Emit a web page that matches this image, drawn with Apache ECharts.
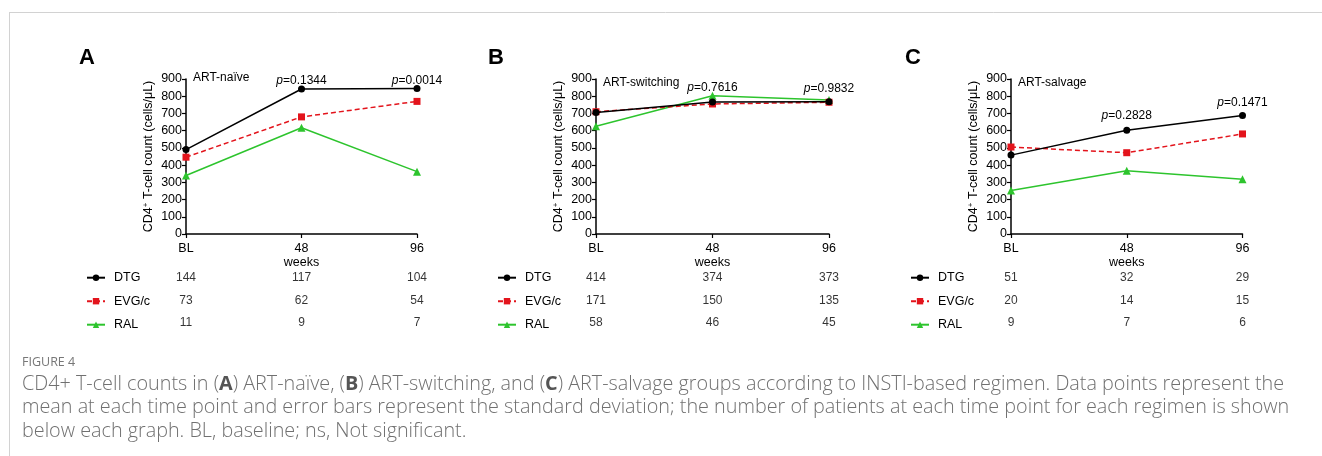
<!DOCTYPE html>
<html>
<head>
<meta charset="utf-8">
<script src="https://cdn.jsdelivr.net/npm/echarts@6/dist/echarts.min.js"></script>
<style>
html, body { margin: 0; padding: 0; background: #fff; }
#chart { width: 1322px; height: 456px; }
</style>
</head>
<body>
<div id="chart"></div>
<script>
// x categories and regimens
var weeks = ['BL', '48', '96'];
var regimens = ['DTG', 'EVG/c', 'RAL'];

// mean CD4 counts (cells/uL)
var naiveDTG = [490, 842, 845];
var naiveEVG = [446, 680, 770];
var naiveRAL = [340, 617, 362];
var switchDTG = [706, 767, 768];
var switchEVG = [710, 755, 765];
var switchRAL = [626, 803, 778];
var salvageDTG = [458, 602, 688];
var salvageEVG = [505, 472, 581];
var salvageRAL = [252, 367, 318];

// number of patients at each time point
var naiveN = [[144, 117, 104], [73, 62, 54], [11, 9, 7]];
var switchN = [[414, 374, 373], [171, 150, 135], [58, 46, 45]];
var salvageN = [[51, 32, 29], [20, 14, 15], [9, 7, 6]];

// p values at week 48 and 96
var naiveP = ['0.1344', '0.0014'];
var switchP = ['0.7616', '0.9832'];
var salvageP = ['0.2828', '0.1471'];

var yMin = 0, yMax = 900, yStep = 100;

var colors = ['#000000', '#e3141c', '#2dc42d'];
var font = '"Liberation Sans", Arial, sans-serif';

var panels = [
    {letter: 'A', group: 'ART-naïve', left: 186, width: 231, legendLeft: 86, letterX: 87,
     data: [naiveDTG, naiveEVG, naiveRAL], n: naiveN, p: naiveP, pY: [81, 81], groupY: 78},
    {letter: 'B', group: 'ART-switching', left: 596, width: 233, legendLeft: 497, letterX: 496,
     data: [switchDTG, switchEVG, switchRAL], n: switchN, p: switchP, pY: [88, 89], groupY: 83},
    {letter: 'C', group: 'ART-salvage', left: 1011, width: 231.5, legendLeft: 910, letterX: 913,
     data: [salvageDTG, salvageEVG, salvageRAL], n: salvageN, p: salvageP, pY: [116, 103], groupY: 83}
];

var grids = [], xAxes = [], yAxes = [], series = [], legends = [], graphics = [];

panels.forEach(function (pn, i) {
    var ci = 2 * i;      // graph
    var ti = 2 * i + 1;  // count table
    grids.push({left: pn.left, width: pn.width, top: 79, height: 155});
    grids.push({left: pn.left, width: pn.width, top: 266.5, height: 68});

    xAxes.push({
        type: 'category', gridIndex: ci, data: weeks, boundaryGap: false,
        axisLine: {lineStyle: {color: '#000', width: 1.5}},
        axisTick: {show: true, length: 4, lineStyle: {color: '#000', width: 1.2}},
        axisLabel: {fontSize: 12.5, color: '#000', fontFamily: font, margin: 8},
        name: 'weeks', nameLocation: 'middle', nameGap: 21,
        nameTextStyle: {fontSize: 12.5, color: '#000', fontFamily: font}
    });
    xAxes.push({type: 'category', gridIndex: ti, data: weeks, boundaryGap: false, show: false});

    yAxes.push({
        type: 'value', gridIndex: ci, min: yMin, max: yMax, interval: yStep,
        axisLine: {show: true, lineStyle: {color: '#000', width: 1.5}},
        axisTick: {show: true, length: 4, lineStyle: {color: '#000', width: 1.2}},
        axisLabel: {fontSize: 12.5, color: '#000', fontFamily: font, margin: 4},
        splitLine: {show: false},
        name: 'CD4{sup|+} T-cell count (cells/μL)', nameLocation: 'middle', nameRotate: 90, nameGap: 31,
        nameTextStyle: {fontSize: 12.5, color: '#000', fontFamily: font,
            rich: {sup: {fontSize: 8, color: '#000', fontFamily: font, verticalAlign: 'top'}}}
    });
    yAxes.push({type: 'category', gridIndex: ti, data: regimens, inverse: true, show: false});

    // mean lines
    series.push({type: 'line', name: 'RAL', xAxisIndex: ci, yAxisIndex: ci, data: pn.data[2],
        symbol: 'triangle', symbolSize: 8, color: colors[2], clip: false, z: 2,
        lineStyle: {width: 1.5, color: colors[2]}});
    series.push({type: 'line', name: 'EVG/c', xAxisIndex: ci, yAxisIndex: ci, data: pn.data[1],
        symbol: 'rect', symbolSize: 7, color: colors[1], clip: false, z: 3,
        lineStyle: {width: 1.5, color: colors[1], type: [5, 3]}});
    series.push({type: 'line', name: 'DTG', xAxisIndex: ci, yAxisIndex: ci, data: pn.data[0],
        symbol: 'circle', symbolSize: 7, color: colors[0], clip: false, z: 4,
        lineStyle: {width: 1.5, color: colors[0]}});

    // patient count table below each graph
    var pts = [];
    for (var r = 0; r < regimens.length; r++) {
        for (var w = 0; w < weeks.length; w++) {
            pts.push([weeks[w], regimens[r], pn.n[r][w]]);
        }
    }
    series.push({type: 'scatter', name: 'n', xAxisIndex: ti, yAxisIndex: ti, data: pts, symbolSize: 1,
        itemStyle: {color: 'rgba(0,0,0,0)'}, silent: true,
        label: {show: true, position: 'inside', fontSize: 12, color: '#000', fontFamily: font,
            formatter: function (p) { return p.value[2]; }}});

    legends.push({
        orient: 'vertical', left: pn.legendLeft, top: 271.2, padding: 0,
        itemWidth: 18, itemHeight: 8, itemGap: 10.5, selectedMode: false,
        data: regimens,
        textStyle: {fontSize: 12.5, color: '#000', fontFamily: font, padding: [0, 0, 0, 4]}
    });

    // panel letter, group name, p values
    graphics.push({type: 'text', x: pn.letterX, y: 58, style: {text: pn.letter, fontSize: 22,
        fontWeight: 'bold', fontFamily: font, fill: '#000', align: 'center', verticalAlign: 'middle'}});
    graphics.push({type: 'text', x: pn.left + 7, y: pn.groupY, style: {text: pn.group, fontSize: 12,
        fontFamily: font, fill: '#000', align: 'left', verticalAlign: 'middle'}});
    for (var k = 0; k < 2; k++) {
        graphics.push({type: 'text', x: pn.left + pn.width * (k + 1) / 2, y: pn.pY[k], style: {
            text: '{i|p}=' + pn.p[k], fontSize: 12, fontFamily: font, fill: '#000',
            align: 'center', verticalAlign: 'middle',
            rich: {i: {fontStyle: 'italic', fontSize: 12, fontFamily: font, fill: '#000'}}}});
    }
});

// frame and caption
graphics.push({type: 'line', shape: {x1: 9, y1: 12.5, x2: 1322, y2: 12.5}, style: {stroke: '#d2d2d2', lineWidth: 1}});
graphics.push({type: 'line', shape: {x1: 9.5, y1: 12, x2: 9.5, y2: 456}, style: {stroke: '#d2d2d2', lineWidth: 1}});
graphics.push({type: 'text', x: 22, y: 362, style: {text: 'FIGURE 4', fontSize: 12.5, fontFamily: 'Open Sans',
    fill: '#777', verticalAlign: 'middle'}});
var capLines = [
    'CD4+ T-cell counts in ({b|A}) ART-naïve, ({b|B}) ART-switching, and ({b|C}) ART-salvage groups according to INSTI-based regimen. Data points represent the',
    'mean at each time point and error bars represent the standard deviation; the number of patients at each time point for each regimen is shown',
    'below each graph. BL, baseline; ns, Not significant.'
];
capLines.forEach(function (t, j) {
    graphics.push({type: 'text', x: 22, y: 384 + j * 23.5, style: {text: t, fontSize: 19.8, fontFamily: 'Open Sans',
        fontWeight: 300, fill: '#707070', verticalAlign: 'middle',
        rich: {b: {fontSize: 19.8, fontFamily: 'Open Sans', fontWeight: 'bold', fill: '#555'}}}});
});

var myChart = echarts.init(document.getElementById('chart'));
var option = {
    animation: false,
    backgroundColor: '#fff',
    grid: grids,
    xAxis: xAxes,
    yAxis: yAxes,
    legend: legends,
    series: series,
    graphic: graphics
};
myChart.setOption(option);
</script>
</body>
</html>
